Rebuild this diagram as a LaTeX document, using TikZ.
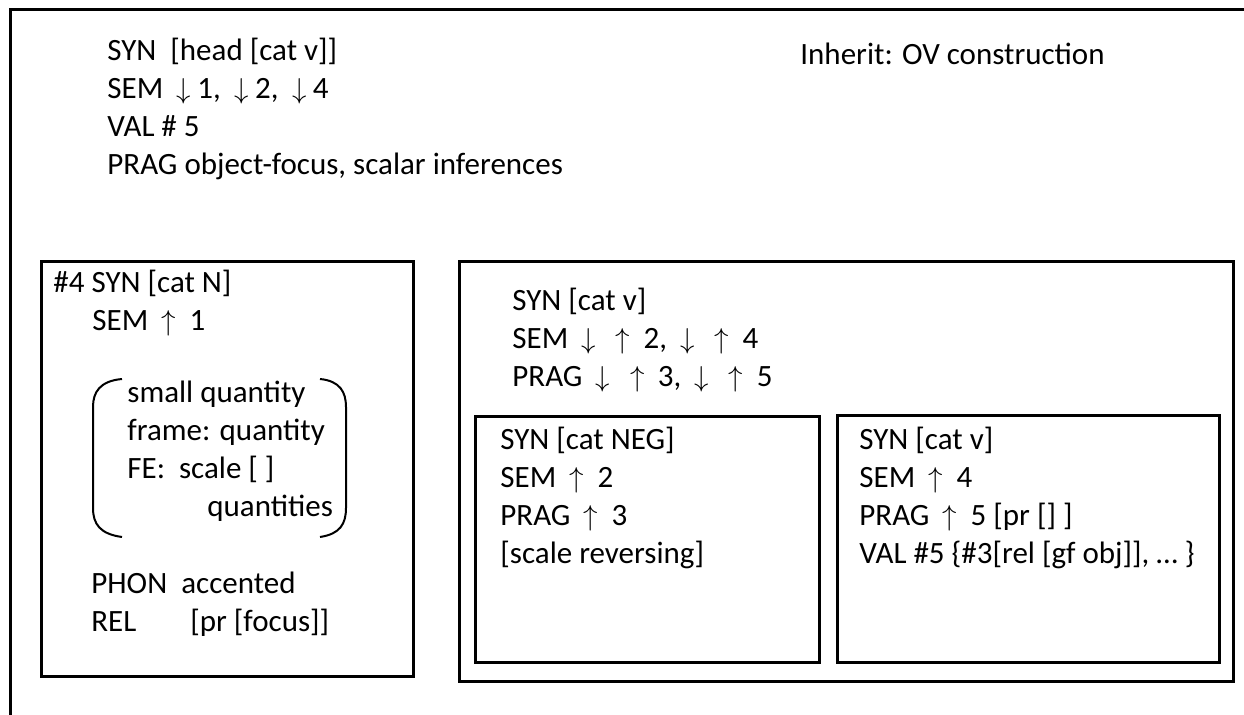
\documentclass[tikz,border=0pt]{standalone}
\usepackage{fontspec}
\setmainfont{Carlito}
\newcommand{\dnarr}{$\mkern4mu\downarrow\mkern4mu$}
\newcommand{\uparr}{$\mkern4mu\uparrow\mkern4mu$}
\begin{document}
\begin{tikzpicture}[x=0.5pt,y=-0.5pt,
	frame/.style={line width=1.5pt},
	paren/.style={line width=1pt},
	avm/.style={anchor=north west, align=left, inner sep=0pt, font=\fontsize{15.5}{19}\selectfont, execute at begin node=\strut}]
	\useasboundingbox (0,0) rectangle (1244,715);
	% outer construction
	\coordinate (outerbl) at (10,720);
	\coordinate (outertl) at (10,10);
	\coordinate (outertr) at (1250,10);
	\draw[frame] (outerbl) -- (outertl) -- (outertr);
	\node[avm] (topavm) at (107,38) {SYN\ \ [head [cat v]]\\SEM \dnarr1, \dnarr2, \dnarr4\\VAL \# 5\\PRAG object-focus, scalar inferences};
	\node[avm] (inherit) at (800,38) {Inherit: OV construction};
	% left daughter
	\coordinate (quantnw) at (41,262);
	\coordinate (quantse) at (413,677);
	\draw[frame] (quantnw) rectangle (quantse);
	\node[avm] (quantsyn) at (53,266) {\#4 SYN [cat N]};
	\node[avm] (quantsem) at (92,304) {SEM \uparr\ 1};
	\node[avm] (quantframe) at (127,381) {small quantity\\frame: quantity\\FE:\ \ scale [ ]\\\hspace*{40pt}quantities};
	\draw[paren] (122,379) .. controls (100,381) and (93,392) .. (93,407) -- (93,508) .. controls (93,524) and (100,534) .. (122,537);
	\draw[paren] (320,379) .. controls (340,381) and (346,392) .. (346,407) -- (346,508) .. controls (346,524) and (340,534) .. (320,537);
	\node[avm] (quantphon) at (91,572) {PHON\ \ accented\\\makebox[49.5pt][l]{REL}[pr [focus]]};
	% right daughter
	\coordinate (verbnw) at (459,262);
	\coordinate (verbse) at (1233,682);
	\draw[frame] (verbnw) rectangle (verbse);
	\node[avm] (verbavm) at (512,288) {SYN [cat v]\\SEM \dnarr\ \uparr\ 2, \dnarr\ \uparr\ 4\\PRAG \dnarr\ \uparr\ 3, \dnarr\ \uparr\ 5};
	\coordinate (negnw) at (475,417);
	\coordinate (negse) at (819,663);
	\draw[frame] (negnw) rectangle (negse);
	\node[avm] (negavm) at (500,427) {SYN [cat NEG]\\SEM \uparr\ 2\\PRAG \uparr\ 3\\{}[scale reversing]};
	\coordinate (vnw) at (837,416);
	\coordinate (vse) at (1219,663);
	\draw[frame] (vnw) rectangle (vse);
	\node[avm] (vavm) at (859,427) {SYN [cat v]\\SEM \uparr\ 4\\PRAG \uparr\ 5 [pr [] ]\\VAL \#5 \{\#3[rel [gf obj]], … \}};
\end{tikzpicture}
\end{document}
